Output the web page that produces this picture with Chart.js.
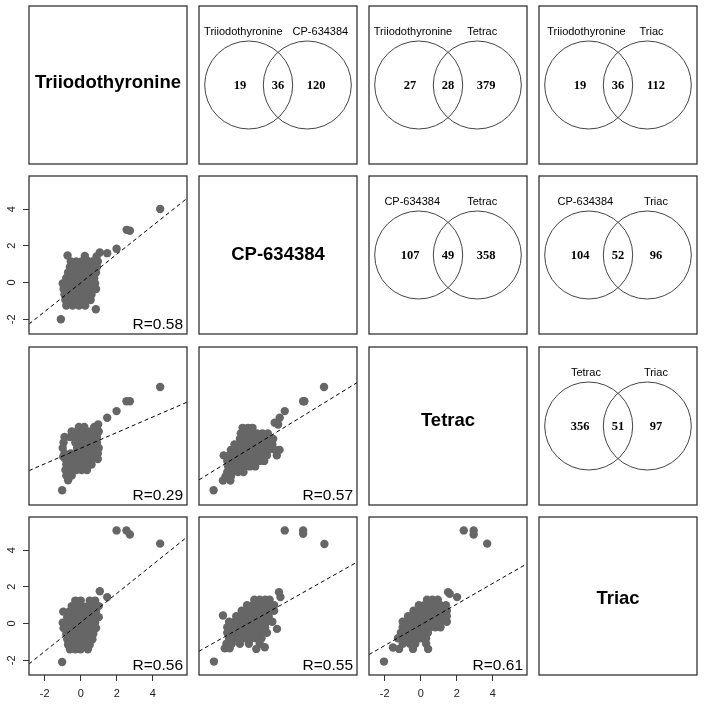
<!DOCTYPE html>
<html lang="en">
<head>
<meta charset="UTF-8">
<title>Pairs plot - thyroid hormone analogues</title>
<script src="https://cdn.jsdelivr.net/npm/chart.js"></script>
<style>
  html, body { margin: 0; padding: 0; background: #fff; }
  #wrap { position: relative; width: 704px; height: 705px; overflow: hidden; }
  #wrap canvas { position: absolute; }
</style>
</head>
<body>
<div id="wrap"></div>
<script>
// ---- data ----
const varNames = ['Triiodothyronine', 'CP-634384', 'Tetrac', 'Triac'];
const tickValues = [-2, 0, 2, 4];
const tickLabels = ['-2', '0', '2', '4'];
const xLimits = [-2.87, 5.9];
const yLimits = [-2.8, 5.8];

// Venn panels (upper triangle): [first set, second set]
const vennPairs = [[0, 1], [0, 2], [0, 3], [1, 2], [1, 3], [2, 3]];
const vennOnlyFirst = [19, 27, 19, 107, 104, 356];
const vennShared = [36, 28, 36, 49, 52, 51];
const vennOnlySecond = [120, 379, 112, 358, 96, 97];

// Scatter panels (lower triangle): [x variable, y variable]
const scatterPairs = [[0, 1], [0, 2], [1, 2], [0, 3], [1, 3], [2, 3]];
const corrR = [0.58, 0.29, 0.57, 0.56, 0.55, 0.61];
const fitIntercept = [-0.02, 0.29, 0.30, 0.06, 0.08, -0.07];
const fitSlope = [0.78, 0.425, 0.603, 0.788, 0.553, 0.564];

const t3VsCp = [
  [4.41, 4.0], [2.55, 2.87], [2.73, 2.82], [1.99, 1.84], [1.47, 1.6], [1.06, 1.64], [0.88, 1.42],
  [-0.73, 1.47], [0.23, 1.45], [-1.1, -2.0], [0.84, -1.45],
  [-0.55, 1.15], [-0.25, 1.15], [0.05, 1.15], [0.35, 1.2], [0.65, 1.15], [0.95, 1.15],
  [-0.6, 0.85], [-0.3, 0.85], [0.0, 0.85], [0.3, 0.85], [0.6, 0.85], [0.9, 0.85],
  [-0.7, 0.55], [-0.4, 0.55], [-0.1, 0.55], [0.2, 0.55], [0.5, 0.55], [0.85, 0.55],
  [-0.8, 0.25], [-0.5, 0.25], [-0.2, 0.25], [0.1, 0.25], [0.4, 0.25], [0.75, 0.25],
  [-1.0, -0.05], [-0.7, -0.05], [-0.4, -0.05], [-0.1, -0.05], [0.2, -0.05], [0.5, -0.05], [0.8, -0.05],
  [-0.95, -0.35], [-0.65, -0.35], [-0.35, -0.35], [-0.05, -0.35], [0.25, -0.35], [0.55, -0.35], [0.85, -0.35],
  [-0.9, -0.65], [-0.6, -0.65], [-0.3, -0.65], [0.0, -0.65], [0.3, -0.65], [0.6, -0.65],
  [-0.85, -0.95], [-0.55, -0.95], [-0.25, -0.95], [0.05, -0.95], [0.35, -0.95], [0.55, -0.95],
  [-0.8, -1.25], [-0.45, -1.25], [-0.1, -1.25], [0.25, -1.25]
];
const t3VsTetrac = [
  [4.41, 3.62], [2.54, 2.85], [2.73, 2.85], [1.99, 2.31], [1.47, 1.95], [0.97, 1.58], [-1.03, -2.0],
  [-0.1, 1.45], [0.2, 1.45], [0.75, 1.45],
  [-0.5, 1.2], [-0.2, 1.2], [0.1, 1.2], [0.4, 1.2], [0.7, 1.2], [1.0, 1.2],
  [-0.9, 0.9], [-0.6, 0.9], [-0.3, 0.9], [0.0, 0.9], [0.3, 0.9], [0.6, 0.9], [0.9, 0.9],
  [-0.95, 0.6], [-0.3, 0.6], [0.0, 0.6], [0.3, 0.6], [0.6, 0.6], [0.9, 0.6],
  [-1.0, 0.3], [-0.2, 0.3], [0.1, 0.3], [0.4, 0.3], [0.7, 0.3], [1.0, 0.3],
  [-0.97, -0.17], [-0.9, 0.0], [-0.55, 0.0], [-0.25, 0.0], [0.05, 0.0], [0.35, 0.0], [0.65, 0.0], [0.95, 0.0],
  [-0.85, -0.3], [-0.55, -0.3], [-0.25, -0.3], [0.05, -0.3], [0.35, -0.3], [0.65, -0.3], [0.95, -0.3],
  [-0.8, -0.6], [-0.5, -0.6], [-0.2, -0.6], [0.1, -0.6], [0.4, -0.6], [0.6, -0.6],
  [-0.85, -0.9], [-0.55, -0.9], [-0.25, -0.9], [0.05, -0.9], [0.35, -0.9],
  [-0.8, -1.2], [-0.5, -1.2], [-0.7, -1.45]
];
const cpVsTetrac = [
  [4.07, 3.62], [2.91, 2.85], [2.98, 2.85], [1.89, 2.31], [1.61, 1.95], [1.52, 1.58], [1.33, 1.68],
  [-2.06, -2.0], [-1.54, -1.47], [-1.13, -1.47],
  [-0.45, 1.4], [-0.15, 1.4], [0.1, 1.4],
  [-0.55, 1.1], [-0.25, 1.1], [0.05, 1.1], [0.35, 1.1], [0.65, 1.1], [0.95, 1.1],
  [-0.6, 0.8], [-0.3, 0.8], [0.0, 0.8], [0.3, 0.8], [0.6, 0.8], [0.9, 0.8], [1.25, 0.8],
  [-0.9, 0.5], [-0.6, 0.5], [-0.3, 0.5], [0.0, 0.5], [0.3, 0.5], [0.6, 0.5], [0.9, 0.5], [1.2, 0.5],
  [-1.1, 0.2], [-0.8, 0.2], [-0.5, 0.2], [-0.2, 0.2], [0.1, 0.2], [0.4, 0.2], [0.7, 0.2], [1.0, 0.2], [1.35, 0.2], [1.6, 0.2],
  [-1.5, -0.1], [-1.2, -0.1], [-0.9, -0.1], [-0.6, -0.1], [-0.3, -0.1], [0.0, -0.1], [0.3, -0.1], [0.6, -0.1], [0.9, -0.1], [1.45, -0.1],
  [-1.3, -0.4], [-1.0, -0.4], [-0.7, -0.4], [-0.4, -0.4], [-0.1, -0.4], [0.2, -0.4], [0.5, -0.4], [0.75, -0.4],
  [-1.25, -0.7], [-0.95, -0.7], [-0.65, -0.7], [-0.35, -0.7], [-0.05, -0.7], [0.25, -0.7],
  [-1.3, -1.0], [-1.0, -1.0], [-0.7, -1.0], [-0.4, -1.0],
  [-1.4, -1.25], [-1.1, -1.25]
];
const t3VsTriac = [
  [1.99, 5.07], [2.54, 5.07], [2.73, 4.85], [4.41, 4.35], [1.06, 1.76], [1.47, 1.44],
  [-1.03, -2.09], [-0.97, 0.65],
  [-0.3, 1.25], [0.0, 1.25], [0.5, 1.25], [0.8, 1.25],
  [-0.5, 0.95], [-0.2, 0.95], [0.1, 0.95], [0.4, 0.95], [0.7, 0.95], [1.0, 0.95],
  [-0.65, 0.65], [-0.35, 0.65], [-0.05, 0.65], [0.25, 0.65], [0.55, 0.65], [0.85, 0.65],
  [-0.75, 0.35], [-0.45, 0.35], [-0.15, 0.35], [0.15, 0.35], [0.45, 0.35], [0.75, 0.35], [1.0, 0.35],
  [-1.0, 0.05], [-0.7, 0.05], [-0.4, 0.05], [-0.1, 0.05], [0.2, 0.05], [0.5, 0.05], [0.8, 0.05],
  [-0.95, -0.25], [-0.65, -0.25], [-0.35, -0.25], [-0.05, -0.25], [0.25, -0.25], [0.55, -0.25], [0.85, -0.25],
  [-0.8, -0.55], [-0.5, -0.55], [-0.2, -0.55], [0.1, -0.55], [0.4, -0.55], [0.7, -0.55],
  [-0.75, -0.85], [-0.45, -0.85], [-0.15, -0.85], [0.15, -0.85], [0.45, -0.85], [0.65, -0.85],
  [-0.7, -1.15], [-0.4, -1.15], [-0.1, -1.15], [0.2, -1.15], [0.5, -1.15],
  [-0.6, -1.4], [-0.3, -1.4], [0.0, -1.4], [0.4, -1.4]
];
const cpVsTriac = [
  [1.89, 5.07], [2.91, 5.07], [2.91, 4.89], [4.09, 4.33], [1.57, 1.71], [1.65, 1.44],
  [-2.04, -2.07], [-1.54, 0.44], [1.46, -0.29],
  [0.2, 1.3], [0.5, 1.3], [0.8, 1.3], [1.05, 1.3],
  [-0.2, 1.0], [0.1, 1.0], [0.4, 1.0], [0.7, 1.0], [1.0, 1.0], [1.3, 1.0],
  [-0.5, 0.7], [-0.2, 0.7], [0.1, 0.7], [0.4, 0.7], [0.7, 0.7], [1.0, 0.7], [1.3, 0.7],
  [-0.8, 0.4], [-0.5, 0.4], [-0.2, 0.4], [0.1, 0.4], [0.4, 0.4], [0.7, 0.4], [1.0, 0.4],
  [-1.2, 0.1], [-0.9, 0.1], [-0.6, 0.1], [-0.3, 0.1], [0.0, 0.1], [0.3, 0.1], [0.6, 0.1], [0.9, 0.1], [1.2, 0.1],
  [-1.3, -0.2], [-1.0, -0.2], [-0.7, -0.2], [-0.4, -0.2], [-0.1, -0.2], [0.2, -0.2], [0.5, -0.2], [0.8, -0.2],
  [-1.3, -0.5], [-1.0, -0.5], [-0.7, -0.5], [-0.4, -0.5], [-0.1, -0.5], [0.2, -0.5], [0.5, -0.5], [0.9, -0.5],
  [-1.2, -0.8], [-0.9, -0.8], [-0.6, -0.8], [-0.3, -0.8], [0.0, -0.8], [0.3, -0.8], [0.6, -0.8],
  [-1.35, -1.1], [-1.05, -1.1], [-0.6, -1.1], [-0.1, -1.1], [0.5, -1.1],
  [-1.44, -1.35], [-1.17, -1.35], [0.31, -1.38], [0.78, -1.29]
];
const tetracVsTriac = [
  [2.39, 5.07], [2.94, 5.07], [2.94, 4.85], [3.69, 4.35], [1.52, 1.71], [1.61, 1.62], [2.02, 1.44],
  [-2.04, -2.07],
  [0.35, 1.3], [0.65, 1.3], [0.95, 1.3],
  [-0.1, 1.0], [0.2, 1.0], [0.5, 1.0], [0.8, 1.0], [1.1, 1.0], [1.4, 1.0],
  [-0.4, 0.7], [-0.1, 0.7], [0.2, 0.7], [0.5, 0.7], [0.8, 0.7], [1.1, 0.7], [1.45, 0.7],
  [-0.7, 0.4], [-0.4, 0.4], [-0.1, 0.4], [0.2, 0.4], [0.5, 0.4], [0.8, 0.4], [1.1, 0.4], [1.45, 0.4],
  [-1.0, 0.1], [-0.7, 0.1], [-0.4, 0.1], [-0.1, 0.1], [0.2, 0.1], [0.5, 0.1], [0.8, 0.1], [1.1, 0.1], [1.45, 0.1],
  [-1.0, -0.2], [-0.7, -0.2], [-0.4, -0.2], [-0.1, -0.2], [0.2, -0.2], [0.5, -0.2], [0.8, -0.2], [1.1, -0.2],
  [-1.1, -0.5], [-0.8, -0.5], [-0.5, -0.5], [-0.2, -0.5], [0.1, -0.5], [0.4, -0.5],
  [-1.26, -0.8], [-0.9, -0.8], [-0.6, -0.8], [-0.3, -0.8], [0.0, -0.8], [0.3, -0.8],
  [-1.0, -1.1], [-0.6, -1.1], [-0.3, -1.1], [0.3, -1.1],
  [-1.54, -1.3], [-1.2, -1.38], [-0.43, -1.38], [0.41, -1.38]
];
const scatterPoints = [t3VsCp, t3VsTetrac, cpVsTetrac, t3VsTriac, cpVsTriac, tetracVsTriac];

// ---- layout ----
const panelLeft = [29, 199, 369, 539];
const panelTop = [6, 176, 347, 517];
const PANEL = 158;
const SANS = '"Liberation Sans", Arial, Helvetica, sans-serif';
const SERIF = '"Liberation Serif", "Times New Roman", serif';
const vennLabelDx = [[-34.7, 42.4], [-35, 34.2], [-31.5, 33.5], [-35.8, 34.2], [-32.6, 37.9], [-32.1, 37.9]];
const diagDy = [-1.7, 0, -5.5, 3];
const VENN_SHIFT = 29.3 / PANEL;

Chart.defaults.font.family = SANS;
const wrap = document.getElementById('wrap');

// box round every panel plus its texts
const panelDecor = {
  id: 'panelDecor',
  afterDatasetsDraw(chart, args, opts) {
    const { ctx, chartArea: a } = chart;
    ctx.save();
    ctx.strokeStyle = '#333';
    ctx.lineWidth = 1.3;
    ctx.strokeRect(a.left, a.top, a.width, a.height);
    (opts.texts || []).forEach(t => {
      ctx.font = t.font;
      ctx.fillStyle = '#000';
      ctx.textAlign = t.align || 'center';
      ctx.textBaseline = t.baseline || 'middle';
      ctx.fillText(t.text, a.left + t.x, a.top + t.y);
    });
    ctx.restore();
  }
};

function makePanel(row, col, hasY, hasX) {
  const padL = col === 0 ? 29 : 4, padR = 4, padT = 4, padB = row === 3 ? 30 : 4;
  const c = document.createElement('canvas');
  c.width = PANEL + padL + padR;
  c.height = PANEL + padT + padB;
  c.style.left = (panelLeft[col] - padL) + 'px';
  c.style.top = (panelTop[row] - padT) + 'px';
  wrap.appendChild(c);
  return {
    canvas: c, padL, padB,
    padding: { left: hasY ? 0 : padL, right: padR, top: padT, bottom: hasX ? 0 : padB }
  };
}

function axisOpts(show, lim, size, vertical) {
  return {
    type: 'linear', min: lim[0], max: lim[1], display: show,
    afterBuildTicks: s => { s.ticks = tickValues.map(v => ({ value: v })); },
    afterFit: s => {
      const w = show ? size : 0;
      if (vertical) s.width = w; else s.height = w;
      s.paddingLeft = 0; s.paddingRight = 0; s.paddingTop = 0; s.paddingBottom = 0;
    },
    grid: { display: true, drawOnChartArea: false, drawTicks: true, tickLength: 6, color: '#333', lineWidth: 1 },
    border: { display: false },
    ticks: {
      autoSkip: false, padding: 6, color: '#222', font: { size: 11 },
      minRotation: vertical ? 90 : 0, maxRotation: vertical ? 90 : 0,
      crossAlign: vertical ? 'center' : 'near',
      callback: (v, i) => tickLabels[i]
    }
  };
}

function baseOptions(p, texts, scales) {
  return {
    responsive: false, animation: false, devicePixelRatio: 1, events: [],
    layout: { padding: p.padding, autoPadding: false },
    plugins: { legend: { display: false }, tooltip: { enabled: false }, panelDecor: { texts } },
    scales
  };
}

function hiddenScales() {
  return {
    x: { type: 'linear', min: 0, max: 1, display: false },
    y: { type: 'linear', min: 0, max: 1, display: false }
  };
}

// diagonal: variable names
varNames.forEach((name, i) => {
  const p = makePanel(i, i, false, false);
  const texts = [{ text: name, x: PANEL / 2, y: PANEL / 2 + diagDy[i], font: 'bold 18.5px ' + SANS }];
  new Chart(p.canvas, { type: 'scatter', data: { datasets: [] }, options: baseOptions(p, texts, hiddenScales()), plugins: [panelDecor] });
});

// upper triangle: Venn diagrams
vennPairs.forEach(([a, b], k) => {
  const p = makePanel(a, b, false, false);
  const cx = PANEL / 2, cy = PANEL / 2, countFont = 'bold 12.5px ' + SERIF, labelFont = '11px ' + SANS;
  const texts = [
    { text: varNames[a], x: cx + vennLabelDx[k][0], y: 26, font: labelFont },
    { text: varNames[b], x: cx + vennLabelDx[k][1], y: 26, font: labelFont },
    { text: String(vennOnlyFirst[k]), x: cx - 38, y: cy + 1, font: countFont },
    { text: String(vennShared[k]), x: cx, y: cy + 1, font: countFont },
    { text: String(vennOnlySecond[k]), x: cx + 38, y: cy + 1, font: countFont }
  ];
  new Chart(p.canvas, {
    type: 'scatter',
    data: {
      datasets: [{
        data: [{ x: 0.5 - VENN_SHIFT, y: 0.5 }, { x: 0.5 + VENN_SHIFT, y: 0.5 }],
        pointRadius: 44, pointBackgroundColor: 'rgba(0,0,0,0)',
        pointBorderColor: '#444', pointBorderWidth: 1
      }]
    },
    options: baseOptions(p, texts, hiddenScales()),
    plugins: [panelDecor]
  });
});

// lower triangle: scatter plots with fitted line
scatterPairs.forEach(([xv, yv], k) => {
  const row = yv, col = xv;
  const hasY = col === 0 && (row === 1 || row === 3);
  const hasX = row === 3 && (col === 0 || col === 2);
  const p = makePanel(row, col, hasY, hasX);
  const fit = xLimits.map(x => ({ x, y: fitIntercept[k] + fitSlope[k] * x }));
  const texts = [{ text: 'R=' + corrR[k].toFixed(2), x: PANEL - 4, y: PANEL - 4.7, align: 'right', baseline: 'alphabetic', font: '15.5px ' + SANS }];
  new Chart(p.canvas, {
    type: 'scatter',
    data: {
      datasets: [
        { data: fit, showLine: true, pointRadius: 0, borderColor: '#000', borderWidth: 1, borderDash: [4, 3] },
        { data: scatterPoints[k].map(([x, y]) => ({ x, y })), pointRadius: 4.2,
          pointBackgroundColor: '#666', pointBorderColor: '#666', pointBorderWidth: 0 }
      ]
    },
    options: baseOptions(p, texts, {
      x: axisOpts(hasX, xLimits, p.padB, false),
      y: axisOpts(hasY, yLimits, p.padL, true)
    }),
    plugins: [panelDecor]
  });
});
</script>
</body>
</html>
